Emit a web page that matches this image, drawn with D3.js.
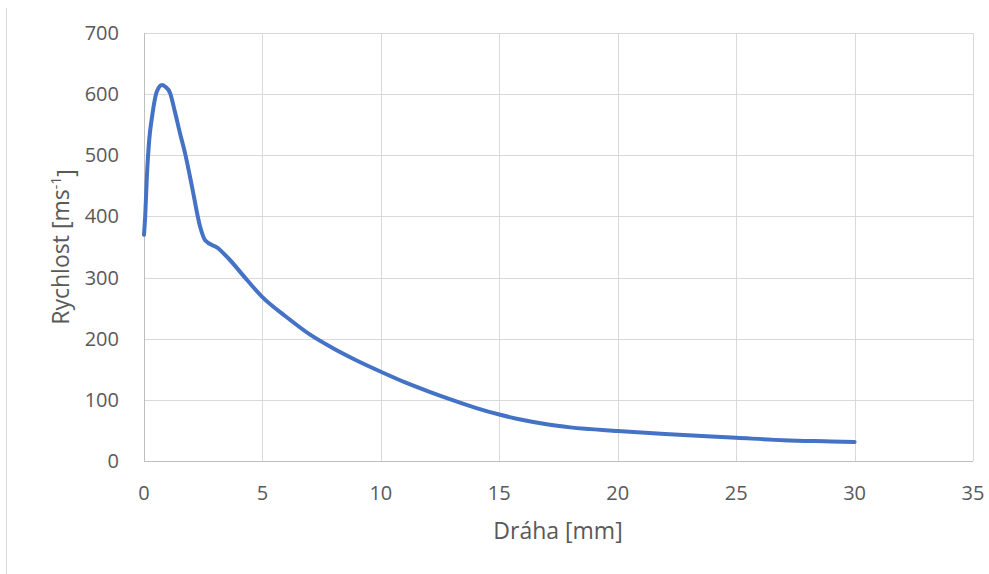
<!DOCTYPE html>
<html lang="cs">
<head>
<meta charset="UTF-8">
<title>Rychlost</title>
<script src="https://d3js.org/d3.v7.min.js"></script>
<style>
  body { margin: 0; background: #fff; }
  text { font-family: "Open Sans", sans-serif; fill: #595959; }
</style>
</head>
<body>
<svg id="chart" width="989" height="574"></svg>
<script>
// data
var draha = [0, 0.05, 0.12, 0.22, 0.34, 0.55, 0.76, 0.9, 1.1, 1.3, 1.52, 1.73, 2.03, 2.37, 2.58, 3.13, 3.55, 4.35, 5, 6, 7, 8, 9, 10, 11, 12, 13, 14, 15, 16, 17, 18, 20, 22, 25, 27, 29, 30];
var rychlost = [370, 400, 464, 525, 563, 605, 615, 612, 602, 572, 536, 504, 448, 383, 361, 348, 332, 296, 268, 236, 207, 184, 164, 146, 129, 114, 100, 87, 76, 67, 60, 55, 49, 44, 38, 34, 32, 31];
var xTicks = [0, 5, 10, 15, 20, 25, 30, 35];
var yTicks = [0, 100, 200, 300, 400, 500, 600, 700];

var svg = d3.select("#chart");

// plot area
var plotL = 144, plotR = 973, plotT = 33, plotB = 461;

var x = d3.scaleLinear().domain([0, 35]).range([plotL, plotR]);
var y = d3.scaleLinear().domain([0, 700]).range([plotB, plotT]);

// faint outer frame line on the left
svg.append("line")
  .attr("x1", 6.5).attr("x2", 6.5).attr("y1", 8).attr("y2", 574)
  .attr("stroke", "#d9d9d9").attr("stroke-width", 1);

// gridlines
svg.append("g")
  .selectAll("line")
  .data(yTicks)
  .enter().append("line")
  .attr("x1", plotL).attr("x2", plotR)
  .attr("y1", function(d) { return Math.round(y(d)) + 0.5; })
  .attr("y2", function(d) { return Math.round(y(d)) + 0.5; })
  .attr("stroke", "#d9d9d9").attr("stroke-width", 1);

svg.append("g")
  .selectAll("line")
  .data(xTicks)
  .enter().append("line")
  .attr("y1", plotT).attr("y2", plotB)
  .attr("x1", function(d) { return Math.round(x(d)) + 0.5; })
  .attr("x2", function(d) { return Math.round(x(d)) + 0.5; })
  .attr("stroke", "#d9d9d9").attr("stroke-width", 1);

// axis lines
svg.append("line")
  .attr("x1", plotL + 0.5).attr("x2", plotL + 0.5).attr("y1", plotT).attr("y2", plotB)
  .attr("stroke", "#bfbfbf");
svg.append("line")
  .attr("x1", plotL).attr("x2", plotR).attr("y1", plotB + 0.5).attr("y2", plotB + 0.5)
  .attr("stroke", "#bfbfbf");

// tick labels
svg.append("g")
  .selectAll("text")
  .data(yTicks)
  .enter().append("text")
  .attr("x", 119)
  .attr("y", function(d) { return y(d); })
  .attr("dy", "0.35em")
  .attr("text-anchor", "end")
  .style("font-size", "20px")
  .text(function(d) { return d; });

svg.append("g")
  .selectAll("text")
  .data(xTicks)
  .enter().append("text")
  .attr("x", function(d) { return x(d); })
  .attr("y", 493)
  .attr("dy", "0.35em")
  .attr("text-anchor", "middle")
  .style("font-size", "20px")
  .text(function(d) { return d; });

// axis titles
svg.append("text")
  .attr("x", 558).attr("y", 531)
  .attr("dy", "0.35em")
  .attr("text-anchor", "middle")
  .style("font-size", "23px")
  .text("Dráha [mm]");

var yt = svg.append("text")
  .attr("transform", "translate(69," + ((plotT + plotB) / 2) + ") rotate(-90)")
  .attr("text-anchor", "middle")
  .style("font-size", "23px");
yt.append("tspan").text("Rychlost [ms");
yt.append("tspan").attr("dy", "-0.55em").style("font-size", "14px").text("-1");
yt.append("tspan").attr("dy", "0.55em").text("]");

// curve
var pts = draha.map(function(d, i) { return [d, rychlost[i]]; });
var line = d3.line()
  .x(function(d) { return x(d[0]); })
  .y(function(d) { return y(d[1]); })
  .curve(d3.curveMonotoneX);

svg.append("path")
  .attr("d", line(pts))
  .attr("fill", "none")
  .attr("stroke", "#4472c4")
  .attr("stroke-width", 4)
  .attr("stroke-linejoin", "round")
  .attr("stroke-linecap", "round");
</script>
</body>
</html>
